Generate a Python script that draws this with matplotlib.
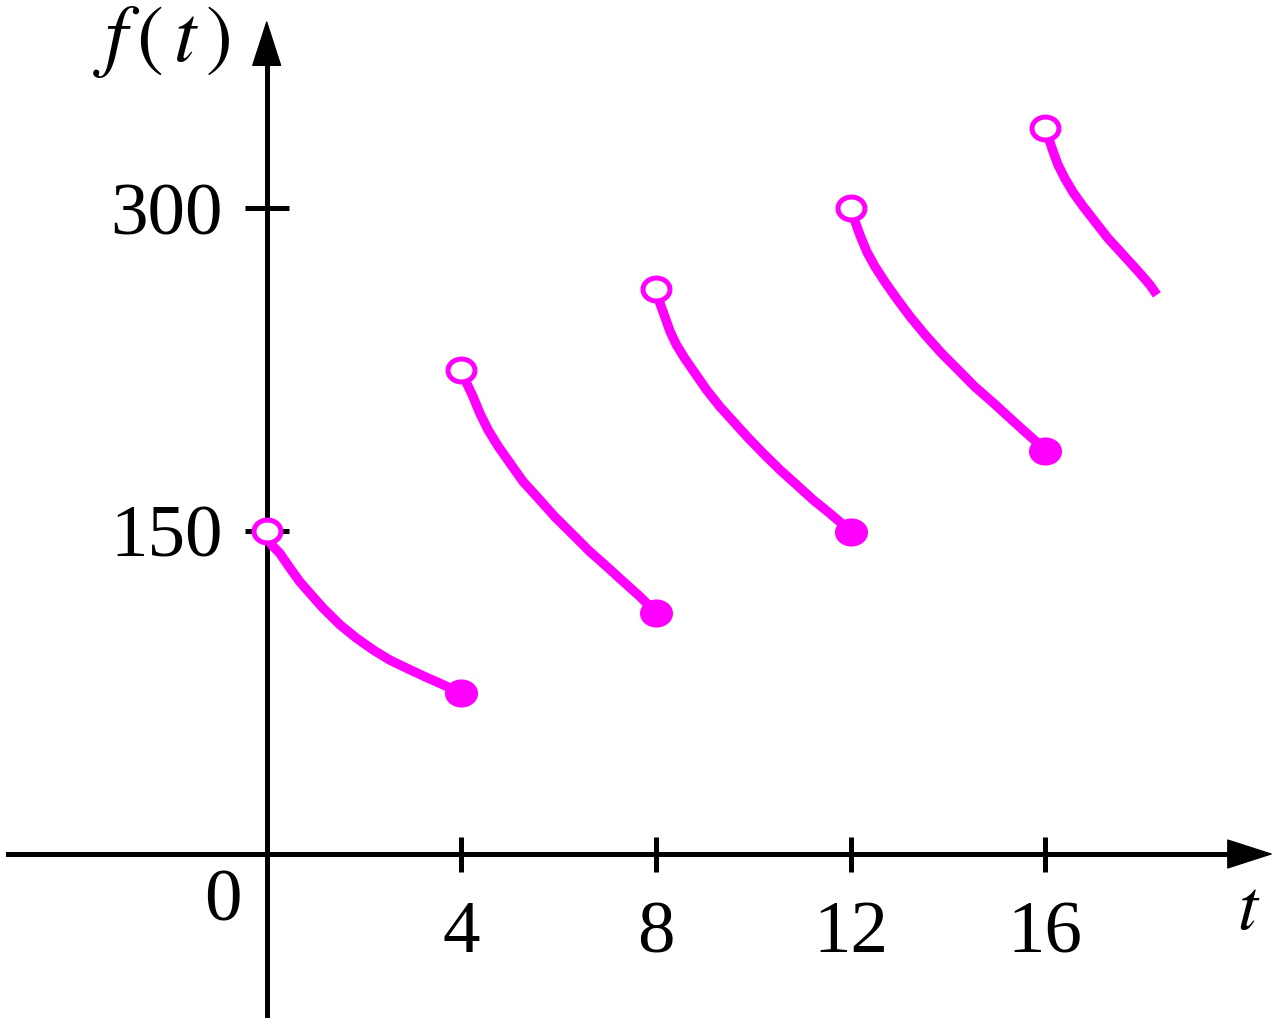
import numpy as np
import matplotlib.pyplot as plt

plt.rcParams['font.family'] = ['Liberation Serif', 'DejaVu Serif']
plt.rcParams['mathtext.fontset'] = 'stix'

# curve pieces (t in hours, f(t))
t_seg1 = [0.0, 0.10, 0.27, 0.48, 0.68, 0.89, 1.16, 1.51, 1.85, 2.19, 2.53, 2.88, 3.22, 3.56, 4.0]
f_seg1 = [150.0, 143.6, 139.7, 132.8, 126.5, 121.1, 114.2, 106.4, 100.2, 94.8, 90.1, 86.3, 82.7, 79.3, 74.7]
t_seg2 = [4.0, 4.11, 4.24, 4.38, 4.55, 4.76, 5.00, 5.27, 5.58, 5.92, 6.30, 6.64, 6.99, 7.33, 7.67, 7.88, 8.0]
f_seg2 = [225.0, 218.7, 212.5, 204.8, 197.0, 189.3, 181.6, 173.0, 165.3, 156.7, 148.2, 140.5, 133.5, 126.5,
          119.6, 114.9, 112.1]
t_seg3 = [8.0, 8.08, 8.18, 8.29, 8.42, 8.59, 8.80, 9.04, 9.31, 9.59, 9.90, 10.20, 10.55, 10.89, 11.23, 11.57,
          11.85, 12.0]
f_seg3 = [262.4, 255.9, 249.7, 242.7, 236.5, 230.3, 223.4, 215.6, 207.9, 200.9, 193.2, 186.2, 178.4, 171.5,
          164.5, 158.3, 152.9, 149.8]
t_seg4 = [12.0, 12.09, 12.19, 12.33, 12.50, 12.70, 12.94, 13.22, 13.53, 13.87, 14.21, 14.55, 14.90, 15.24,
          15.58, 15.85, 16.0]
f_seg4 = [300.0, 293.8, 287.6, 279.9, 272.9, 265.9, 258.2, 249.7, 241.2, 232.6, 224.9, 217.1, 210.2, 203.2,
          196.2, 190.8, 187.3]
t_seg5 = [16.0, 16.09, 16.16, 16.26, 16.40, 16.57, 16.78, 17.02, 17.29, 17.57, 17.88, 18.15, 18.29]
f_seg5 = [337.5, 331.0, 326.3, 320.2, 313.9, 307.4, 300.8, 293.8, 286.0, 279.1, 271.4, 264.4, 259.8]

x_ticks = [4, 8, 12, 16]
y_ticks = [150, 300]

seg_t = [t_seg1, t_seg2, t_seg3, t_seg4, t_seg5]
seg_f = [f_seg1, f_seg2, f_seg3, f_seg4, f_seg5]
magenta = '#ff00ff'

# slightly flattened dot, like the original
th = np.linspace(0, 2 * np.pi, 80)
ell = np.column_stack([np.cos(th), 0.85 * np.sin(th)])

fig = plt.figure(figsize=(12.78, 10.21), dpi=100)
fig.patch.set_edgecolor('#eeeedd')
fig.patch.set_linewidth(4)
ax = fig.add_axes([0, 0, 1, 1])
ax.set_xlim(-5.48, 20.78)
ax.set_ylim(-77.6, 396.8)

for ts, fs in zip(seg_t, seg_f):
    ax.plot(ts, fs, color=magenta, lw=6.8, solid_capstyle='butt',
            solid_joinstyle='round', zorder=3)

# filled = end of each dose, open = start of the next
ax.plot([s[-1] for s in seg_t[:-1]], [s[-1] for s in seg_f[:-1]], ls='none',
        marker=ell, ms=23.8, mfc=magenta, mec='none', zorder=4)
ax.plot([s[0] for s in seg_t], [s[0] for s in seg_f], ls='none',
        marker=ell, ms=19.4, mfc='white', mec=magenta, mew=3.6, zorder=5)

# axes through the origin
for side in ['top', 'right']:
    ax.spines[side].set_visible(False)
ax.spines['left'].set_position(('data', 0))
ax.spines['bottom'].set_position(('data', 0))
ax.spines['left'].set_bounds(-74.8, 375)
ax.spines['bottom'].set_bounds(-5.32, 20.2)
for side in ['left', 'bottom']:
    ax.spines[side].set_linewidth(3.6)

arrow = dict(arrowstyle='-|>,head_length=1.55,head_width=0.5', mutation_scale=20,
             color='k', lw=1, shrinkA=0, shrinkB=0)
ax.annotate('', xy=(20.68, 0), xytext=(19.5, 0), arrowprops=arrow)
ax.annotate('', xy=(0, 387.5), xytext=(0, 360), arrowprops=arrow)

ax.set_xticks(x_ticks)
ax.set_xticklabels([str(v) for v in x_ticks])
ax.set_yticks(y_ticks)
ax.set_yticklabels([str(v) for v in y_ticks])
ax.tick_params(axis='x', direction='inout', length=25.2, width=3.6, pad=21, labelsize=54)
ax.tick_params(axis='y', direction='inout', length=31, width=3.6, pad=16, labelsize=54)

ax.annotate('0', xy=(0, 0), xytext=(-31.5, -35.3), textcoords='offset points',
            ha='center', va='center', fontsize=54)
fig.text(162 / 1278, 1 - 42 / 1021, r'$f\,(\,t\,)$', ha='center', va='center', fontsize=58)
fig.text(1249 / 1278, 1 - 912 / 1021, r'$t$', ha='center', va='center', fontsize=52)

fig.savefig('out.png', dpi=100, edgecolor=fig.get_edgecolor())
